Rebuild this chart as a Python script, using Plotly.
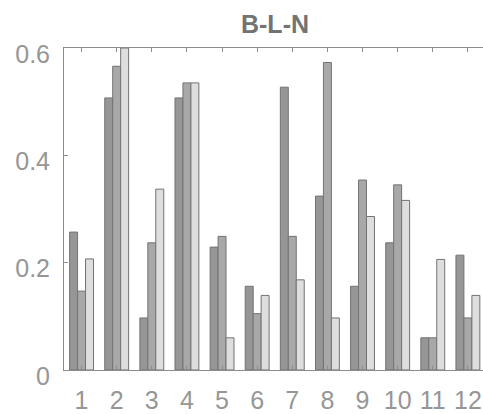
import plotly.graph_objects as go

categories = [1, 2, 3, 4, 5, 6, 7, 8, 9, 10, 11, 12]
tick_labels = [str(c) for c in categories]
series_a = [0.257, 0.507, 0.097, 0.507, 0.229, 0.156, 0.527, 0.324, 0.156, 0.237, 0.060, 0.214]
series_b = [0.147, 0.566, 0.237, 0.535, 0.249, 0.105, 0.249, 0.573, 0.354, 0.345, 0.060, 0.097]
series_c = [0.207, 0.600, 0.337, 0.535, 0.060, 0.139, 0.168, 0.097, 0.286, 0.316, 0.206, 0.139]
y_ticks = [0, 0.2, 0.4, 0.6]
y_tick_labels = ["0", "0.2", "0.4", "0.6"]

fills = ["rgb(150,150,150)", "rgb(168,168,168)", "rgb(222,222,222)"]
edge = "rgb(115,115,115)"

fig = go.Figure()
for vals, col in zip([series_a, series_b, series_c], fills):
    fig.add_trace(go.Bar(x=categories, y=vals, marker=dict(color=col, line=dict(color=edge, width=1)),
                         showlegend=False, hoverinfo="skip"))

axis_col = "rgb(140,140,140)"
W, H = 483, 414
fig.update_layout(
    width=W, height=H,
    margin=dict(l=64, r=0, t=48, b=42, pad=0),
    paper_bgcolor="white", plot_bgcolor="white",
    barmode="group", bargap=0.32, bargroupgap=0,
    font=dict(family="Liberation Sans, Arial, sans-serif", color="rgb(150,150,150)", size=25),
    title=dict(text="<b>B-L-N</b>", x=275 / W, xanchor="center", xref="container",
               y=1 - 24 / H, yanchor="middle", yref="container",
               font=dict(size=25, color="rgb(115,115,115)")),
    xaxis=dict(range=[0.5, 12.43], tickvals=categories, ticktext=tick_labels,
               showline=True, linecolor=axis_col, linewidth=1, mirror="ticks",
               ticks="inside", ticklen=4, tickcolor=axis_col, showgrid=False, zeroline=False,
               ticklabelstandoff=8),
    yaxis=dict(range=[0, 0.6], tickvals=y_ticks, ticktext=y_tick_labels,
               showline=True, linecolor=axis_col, linewidth=1, mirror=False,
               ticks="inside", ticklen=4, tickcolor=axis_col, showgrid=False, zeroline=False,
               ticklabelstandoff=8, ticklabelshift=6),
)
fig.write_html(
    "out.html",
    config={"displayModeBar": False, "staticPlot": True},
    post_script="document.body.style.margin='0';document.body.style.overflow='hidden';"
                "document.documentElement.style.overflow='hidden';",
)
